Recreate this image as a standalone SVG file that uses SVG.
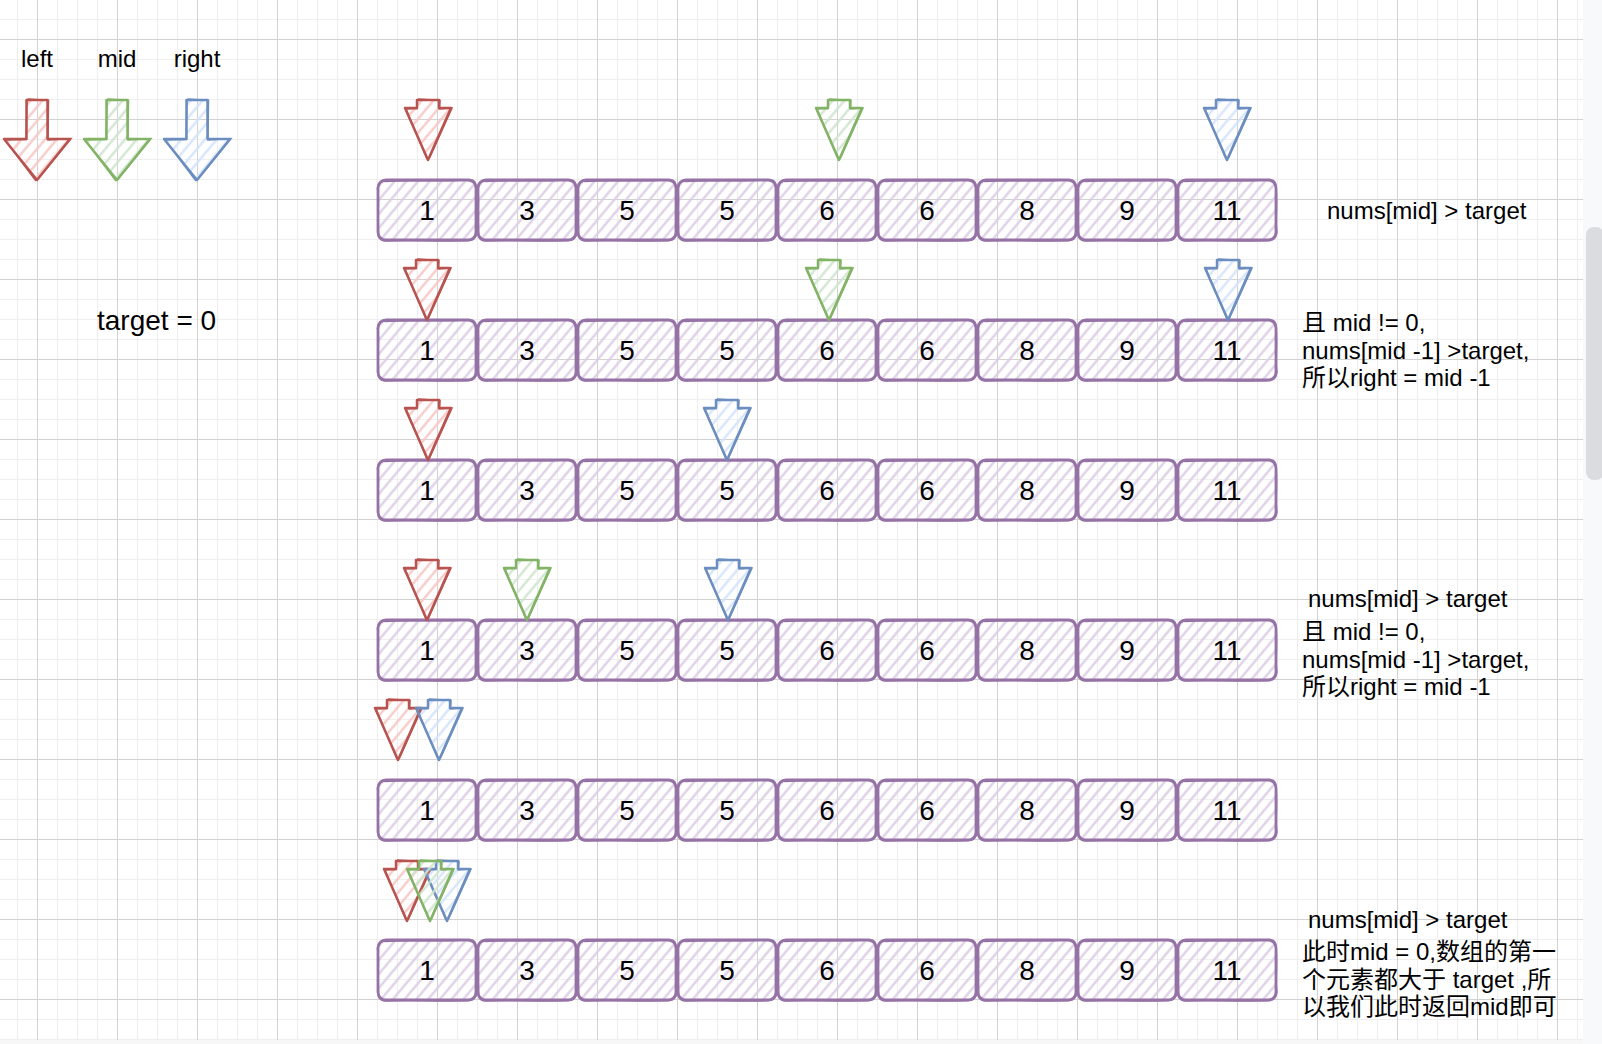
<svg xmlns="http://www.w3.org/2000/svg" xmlns:xlink="http://www.w3.org/1999/xlink" width="1602" height="1044" viewBox="0 0 1602 1044">
<style>
.t{font-family:"Liberation Sans",Arial,"Noto Sans CJK SC",sans-serif;font-size:24px;fill:#000}
.n{font-family:"Liberation Sans",Arial,sans-serif;font-size:28px;fill:#000;text-anchor:middle}
.m{text-anchor:middle}
.red{fill:url(#hR);stroke:#b85450}
.green{fill:url(#hG);stroke:#82b366}
.blue{fill:url(#hB);stroke:#6c8ebf}
</style>
<defs>
<pattern id="grid" patternUnits="userSpaceOnUse" x="37" y="39" width="80" height="80">
<path d="M20.5 0V80M40.5 0V80M60.5 0V80M0 20.5H80M0 40.5H80M0 60.5H80" stroke="#efefef" stroke-width="1.2" fill="none"/>
<path d="M0.5 0V80M0 0.5H80" stroke="#d2d2d2" stroke-width="1" fill="none"/>
</pattern>
<pattern id="hP" patternUnits="userSpaceOnUse" width="9" height="9" patternTransform="rotate(40)"><line x1="4.5" y1="0" x2="4.5" y2="9" stroke="#dccde4" stroke-width="2.2"/></pattern>
<pattern id="hR" patternUnits="userSpaceOnUse" width="9" height="9" patternTransform="rotate(40)"><line x1="4.5" y1="0" x2="4.5" y2="9" stroke="#f6c6c4" stroke-width="2.2"/></pattern>
<pattern id="hG" patternUnits="userSpaceOnUse" width="9" height="9" patternTransform="rotate(40)"><line x1="4.5" y1="0" x2="4.5" y2="9" stroke="#cfe4cd" stroke-width="2.2"/></pattern>
<pattern id="hB" patternUnits="userSpaceOnUse" width="9" height="9" patternTransform="rotate(40)"><line x1="4.5" y1="0" x2="4.5" y2="9" stroke="#d3e3fb" stroke-width="2.2"/></pattern>
<symbol id="cell" overflow="visible">
<rect x="0" y="0" width="98" height="60" rx="8" fill="url(#hP)" stroke="#9673a6" stroke-width="2.8"/>
<path d="M8,1.5 C30,-1 65,2.5 92,-0.5 Q98.5,0 98,8 C100,25 96.5,42 99,52 Q98,61 90,60.5 C62,62 30,59 7,61 Q-1,60 0.5,52 C-1.5,36 2,22 -0.5,8 Q0.5,-0.5 8,1.5 Z" fill="none" stroke="#9673a6" stroke-width="1.6"/>
</symbol>
<symbol id="sa" overflow="visible">
<path d="M-11,0 H11 V8 H23 L0,60 L-23,8 H-11 Z" stroke-width="2.5" stroke-linejoin="round"/>
<path d="M-10,-1 L12,0.5 L11.5,9 L24,8 L1.5,58 M-1,59 L-22,9 L-11,8.5 L-10.5,0" fill="none" stroke-width="1.5"/>
</symbol>
<symbol id="ba" overflow="visible">
<path d="M-10.5,0 H10.5 V39 H33 L0,80 L-33,39 H-10.5 Z" stroke-width="2.5" stroke-linejoin="round"/>
<path d="M-9.5,-1 L11.5,0.5 L11,40 L34,38.5 L1,79 M-1,81 L-32,40 L-11,39.5 L-10,1" fill="none" stroke-width="1.5"/>
</symbol>
</defs>

<g id="background">
<rect x="0" y="0" width="1602" height="1044" fill="#ffffff"/>
<rect x="0" y="0" width="1583" height="1040" fill="url(#grid)"/>
<rect x="1583" y="0" width="19" height="1044" fill="#f8f9fa"/>
<rect x="0" y="1040" width="1583" height="4" fill="#f7f7f7"/>
<rect x="1586" y="227" width="18" height="253" rx="8" fill="#dadce0"/>
</g>

<g id="legend">
<g id="legend-left"><text class="t m" x="37" y="67">left</text><use href="#ba" x="37" y="100" class="red"/></g>
<g id="legend-mid"><text class="t m" x="117" y="67">mid</text><use href="#ba" x="117" y="100" class="green"/></g>
<g id="legend-right"><text class="t m" x="197" y="67">right</text><use href="#ba" x="197" y="100" class="blue"/></g>
<g id="target-label"><text class="t" x="97" y="330" style="font-size:28px">target = 0</text></g>
</g>

<g id="row1">
<g id="r1c0"><use href="#cell" x="378" y="180"/><text class="n" x="427" y="220">1</text></g>
<g id="r1c1"><use href="#cell" x="478" y="180"/><text class="n" x="527" y="220">3</text></g>
<g id="r1c2"><use href="#cell" x="578" y="180"/><text class="n" x="627" y="220">5</text></g>
<g id="r1c3"><use href="#cell" x="678" y="180"/><text class="n" x="727" y="220">5</text></g>
<g id="r1c4"><use href="#cell" x="778" y="180"/><text class="n" x="827" y="220">6</text></g>
<g id="r1c5"><use href="#cell" x="878" y="180"/><text class="n" x="927" y="220">6</text></g>
<g id="r1c6"><use href="#cell" x="978" y="180"/><text class="n" x="1027" y="220">8</text></g>
<g id="r1c7"><use href="#cell" x="1078" y="180"/><text class="n" x="1127" y="220">9</text></g>
<g id="r1c8"><use href="#cell" x="1178" y="180"/><text class="n" x="1227" y="220">11</text></g>
</g>
<g id="row2">
<g id="r2c0"><use href="#cell" x="378" y="320"/><text class="n" x="427" y="360">1</text></g>
<g id="r2c1"><use href="#cell" x="478" y="320"/><text class="n" x="527" y="360">3</text></g>
<g id="r2c2"><use href="#cell" x="578" y="320"/><text class="n" x="627" y="360">5</text></g>
<g id="r2c3"><use href="#cell" x="678" y="320"/><text class="n" x="727" y="360">5</text></g>
<g id="r2c4"><use href="#cell" x="778" y="320"/><text class="n" x="827" y="360">6</text></g>
<g id="r2c5"><use href="#cell" x="878" y="320"/><text class="n" x="927" y="360">6</text></g>
<g id="r2c6"><use href="#cell" x="978" y="320"/><text class="n" x="1027" y="360">8</text></g>
<g id="r2c7"><use href="#cell" x="1078" y="320"/><text class="n" x="1127" y="360">9</text></g>
<g id="r2c8"><use href="#cell" x="1178" y="320"/><text class="n" x="1227" y="360">11</text></g>
</g>
<g id="row3">
<g id="r3c0"><use href="#cell" x="378" y="460"/><text class="n" x="427" y="500">1</text></g>
<g id="r3c1"><use href="#cell" x="478" y="460"/><text class="n" x="527" y="500">3</text></g>
<g id="r3c2"><use href="#cell" x="578" y="460"/><text class="n" x="627" y="500">5</text></g>
<g id="r3c3"><use href="#cell" x="678" y="460"/><text class="n" x="727" y="500">5</text></g>
<g id="r3c4"><use href="#cell" x="778" y="460"/><text class="n" x="827" y="500">6</text></g>
<g id="r3c5"><use href="#cell" x="878" y="460"/><text class="n" x="927" y="500">6</text></g>
<g id="r3c6"><use href="#cell" x="978" y="460"/><text class="n" x="1027" y="500">8</text></g>
<g id="r3c7"><use href="#cell" x="1078" y="460"/><text class="n" x="1127" y="500">9</text></g>
<g id="r3c8"><use href="#cell" x="1178" y="460"/><text class="n" x="1227" y="500">11</text></g>
</g>
<g id="row4">
<g id="r4c0"><use href="#cell" x="378" y="620"/><text class="n" x="427" y="660">1</text></g>
<g id="r4c1"><use href="#cell" x="478" y="620"/><text class="n" x="527" y="660">3</text></g>
<g id="r4c2"><use href="#cell" x="578" y="620"/><text class="n" x="627" y="660">5</text></g>
<g id="r4c3"><use href="#cell" x="678" y="620"/><text class="n" x="727" y="660">5</text></g>
<g id="r4c4"><use href="#cell" x="778" y="620"/><text class="n" x="827" y="660">6</text></g>
<g id="r4c5"><use href="#cell" x="878" y="620"/><text class="n" x="927" y="660">6</text></g>
<g id="r4c6"><use href="#cell" x="978" y="620"/><text class="n" x="1027" y="660">8</text></g>
<g id="r4c7"><use href="#cell" x="1078" y="620"/><text class="n" x="1127" y="660">9</text></g>
<g id="r4c8"><use href="#cell" x="1178" y="620"/><text class="n" x="1227" y="660">11</text></g>
</g>
<g id="row5">
<g id="r5c0"><use href="#cell" x="378" y="780"/><text class="n" x="427" y="820">1</text></g>
<g id="r5c1"><use href="#cell" x="478" y="780"/><text class="n" x="527" y="820">3</text></g>
<g id="r5c2"><use href="#cell" x="578" y="780"/><text class="n" x="627" y="820">5</text></g>
<g id="r5c3"><use href="#cell" x="678" y="780"/><text class="n" x="727" y="820">5</text></g>
<g id="r5c4"><use href="#cell" x="778" y="780"/><text class="n" x="827" y="820">6</text></g>
<g id="r5c5"><use href="#cell" x="878" y="780"/><text class="n" x="927" y="820">6</text></g>
<g id="r5c6"><use href="#cell" x="978" y="780"/><text class="n" x="1027" y="820">8</text></g>
<g id="r5c7"><use href="#cell" x="1078" y="780"/><text class="n" x="1127" y="820">9</text></g>
<g id="r5c8"><use href="#cell" x="1178" y="780"/><text class="n" x="1227" y="820">11</text></g>
</g>
<g id="row6">
<g id="r6c0"><use href="#cell" x="378" y="940"/><text class="n" x="427" y="980">1</text></g>
<g id="r6c1"><use href="#cell" x="478" y="940"/><text class="n" x="527" y="980">3</text></g>
<g id="r6c2"><use href="#cell" x="578" y="940"/><text class="n" x="627" y="980">5</text></g>
<g id="r6c3"><use href="#cell" x="678" y="940"/><text class="n" x="727" y="980">5</text></g>
<g id="r6c4"><use href="#cell" x="778" y="940"/><text class="n" x="827" y="980">6</text></g>
<g id="r6c5"><use href="#cell" x="878" y="940"/><text class="n" x="927" y="980">6</text></g>
<g id="r6c6"><use href="#cell" x="978" y="940"/><text class="n" x="1027" y="980">8</text></g>
<g id="r6c7"><use href="#cell" x="1078" y="940"/><text class="n" x="1127" y="980">9</text></g>
<g id="r6c8"><use href="#cell" x="1178" y="940"/><text class="n" x="1227" y="980">11</text></g>
</g>

<g id="pointers">
<g id="p1-left"><use href="#sa" x="428" y="100" class="red"/></g>
<g id="p1-mid"><use href="#sa" x="839" y="100" class="green"/></g>
<g id="p1-right"><use href="#sa" x="1227" y="100" class="blue"/></g>
<g id="p2-left"><use href="#sa" x="427" y="260" class="red"/></g>
<g id="p2-mid"><use href="#sa" x="829" y="260" class="green"/></g>
<g id="p2-right"><use href="#sa" x="1228" y="260" class="blue"/></g>
<g id="p3-left"><use href="#sa" x="428" y="400" class="red"/></g>
<g id="p3-right"><use href="#sa" x="727" y="400" class="blue"/></g>
<g id="p4-left"><use href="#sa" x="427" y="560" class="red"/></g>
<g id="p4-mid"><use href="#sa" x="527" y="560" class="green"/></g>
<g id="p4-right"><use href="#sa" x="728" y="560" class="blue"/></g>
<g id="p5-left"><use href="#sa" x="398" y="700" class="red"/></g>
<g id="p5-right"><use href="#sa" x="439" y="700" class="blue"/></g>
<g id="p6-left"><use href="#sa" x="407" y="861" class="red"/></g>
<g id="p6-right"><use href="#sa" x="447" y="861" class="blue"/></g>
<g id="p6-mid"><use href="#sa" x="430" y="861" class="green"/></g>
</g>

<g id="notes">
<g id="note1"><text class="t" x="1327" y="219">nums[mid] &gt; target</text></g>
<g id="note2"><text class="t" x="1302" y="331">且 mid != 0,</text><text class="t" x="1302" y="358.5">nums[mid -1] &gt;target,</text><text class="t" x="1302" y="386">所以right = mid -1</text></g>
<g id="note4"><text class="t" x="1308" y="607">nums[mid] &gt; target</text><text class="t" x="1302" y="640">且 mid != 0,</text><text class="t" x="1302" y="667.5">nums[mid -1] &gt;target,</text><text class="t" x="1302" y="695">所以right = mid -1</text></g>
<g id="note6"><text class="t" x="1308" y="928">nums[mid] &gt; target</text><text class="t" x="1302" y="960">此时mid = 0,数组的第一</text><text class="t" x="1302" y="987.5">个元素都大于 target ,所</text><text class="t" x="1302" y="1015">以我们此时返回mid即可</text></g>
</g>

<g id="connectors"/>
</svg>
